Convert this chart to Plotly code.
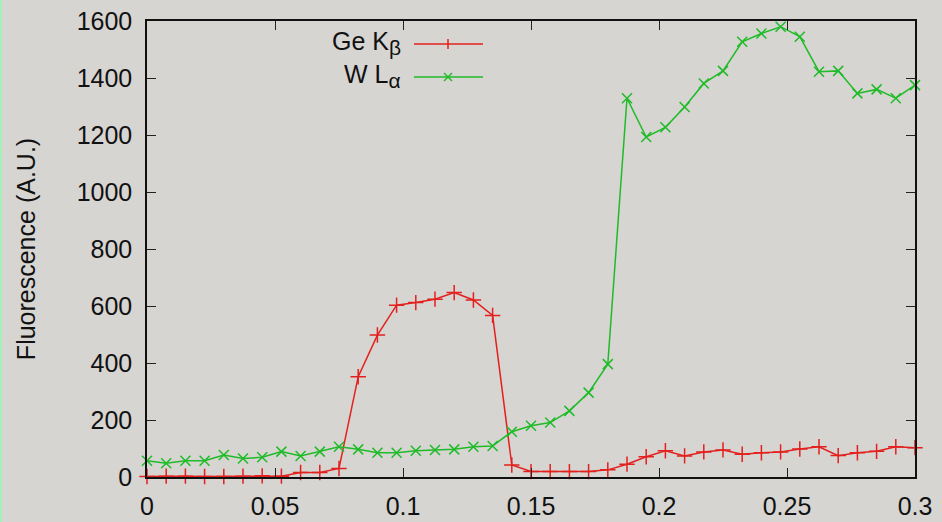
import plotly.graph_objects as go

# Scan positions (step 0.0075 over 0 .. 0.3)
step = 0.0075
n_points = 41
position = [round(i * step, 4) for i in range(n_points)]

ge_kbeta = [2, 3, 3, 2, 2, 3, 4, 3, 16, 16, 30, 352, 498, 603, 612,
            624, 647, 621, 567, 42, 19, 19, 19, 19, 25, 45, 71, 92, 74, 88,
            95, 80, 85, 88, 98, 106, 75, 85, 90, 106, 103]

w_lalpha = [57, 48, 57, 57, 77, 65, 69, 89, 74, 89, 106, 97, 85, 85, 92,
            95, 97, 106, 109, 159, 180, 191, 232, 296, 396, 1329, 1193, 1227, 1298, 1381,
            1425, 1527, 1556, 1580, 1545, 1422, 1425, 1346, 1360, 1329, 1375]

x_ticks = [0, 0.05, 0.1, 0.15, 0.2, 0.25, 0.3]
x_tick_text = ["0", "0.05", "0.1", "0.15", "0.2", "0.25", "0.3"]
y_ticks = [0, 200, 400, 600, 800, 1000, 1200, 1400, 1600]

RED = "#e3201d"
GREEN = "#1fbb28"
BG = "#d7d5d1"
FONT = "Liberation Sans, Arial, sans-serif"

W, H = 942, 522
M_L, M_R, M_T, M_B = 147, 27, 21, 45
PW, PH = W - M_L - M_R, H - M_T - M_B


def px(x):
    return (x - M_L) / PW


def py(y):
    return (H - M_B - y) / PH


fig = go.Figure()
fig.add_trace(go.Scatter(
    x=position, y=ge_kbeta, mode="lines+markers", name="Ge Kβ",
    line=dict(color=RED, width=1.5),
    marker=dict(symbol="cross-thin", size=11, line=dict(color=RED, width=1.5)),
    cliponaxis=False, showlegend=False,
))
fig.add_trace(go.Scatter(
    x=position, y=w_lalpha, mode="lines+markers", name="W Lα",
    line=dict(color=GREEN, width=1.5),
    marker=dict(symbol="x-thin", size=10, line=dict(color=GREEN, width=1.5)),
    cliponaxis=False, showlegend=False,
))

# Key drawn gnuplot-style: label on the left, sample line on the right
shapes = []
annotations = []
sub = "<sub><span style='font-size:21px'>%s</span></sub>"
key_rows = [("Ge K" + sub % "β", RED, "plus", 44), ("W L" + sub % "α", GREEN, "cross", 77)]
for label, color, kind, yrow in key_rows:
    shapes.append(dict(type="line", xref="paper", yref="paper",
                       x0=px(414), x1=px(483), y0=py(yrow), y1=py(yrow),
                       line=dict(color=color, width=1.5)))
    cx, cy = 448, yrow
    if kind == "plus":
        shapes.append(dict(type="line", xref="paper", yref="paper",
                           x0=px(cx), x1=px(cx), y0=py(cy - 5), y1=py(cy + 5),
                           line=dict(color=color, width=1.5)))
    else:
        for dx in (-4, 4):
            shapes.append(dict(type="line", xref="paper", yref="paper",
                               x0=px(cx - dx), x1=px(cx + dx), y0=py(cy - 4), y1=py(cy + 4),
                               line=dict(color=color, width=1.5)))
    annotations.append(dict(text=label, xref="paper", yref="paper",
                            x=px(403), y=py(yrow - 1), xanchor="right", yanchor="middle",
                            showarrow=False, font=dict(family=FONT, size=25, color="#111111")))

# thin green edge on the left of the canvas
shapes.append(dict(type="rect", xref="paper", yref="paper",
                   x0=px(0), x1=px(2), y0=py(H), y1=py(0),
                   line=dict(width=0), fillcolor="#a6efb6", layer="below"))

axis_common = dict(
    showgrid=False, zeroline=False, showline=True, linecolor="#111111", linewidth=1.5,
    mirror="allticks", ticks="inside", ticklen=9, tickwidth=1.2, tickcolor="#222222",
    tickfont=dict(family=FONT, size=25, color="#111111"), automargin=False,
)

fig.update_layout(
    width=W, height=H,
    margin=dict(l=M_L, r=M_R, t=M_T, b=M_B),
    paper_bgcolor=BG, plot_bgcolor=BG,
    shapes=shapes, annotations=annotations,
    xaxis=dict(range=[0, 0.3], tickvals=x_ticks, ticktext=x_tick_text,
               ticklabelstandoff=6, **axis_common),
    yaxis=dict(range=[0, 1600], tickvals=y_ticks, ticklabelstandoff=8,
               title=dict(text="Fluorescence (A.U.)", standoff=34,
                          font=dict(family=FONT, size=25, color="#111111")),
               **axis_common),
)

fig.write_html("out.html")
